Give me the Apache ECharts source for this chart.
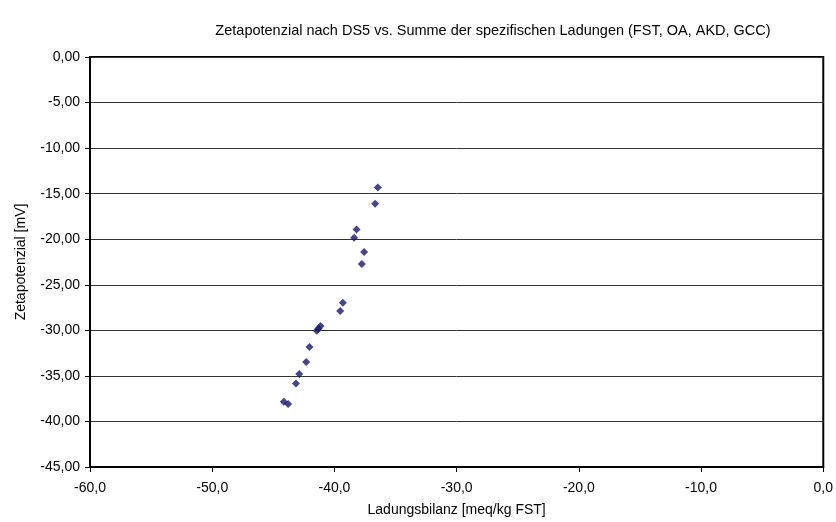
<!DOCTYPE html>
<html>
<head>
<meta charset="utf-8">
<script src="https://cdn.jsdelivr.net/npm/echarts@6/dist/echarts.min.js"></script>
<style>html,body{margin:0;padding:0;background:#fff}#c{width:836px;height:522px}</style>
</head>
<body>
<div id="c"></div>
<script>
var titleText = "Zetapotenzial nach DS5 vs. Summe der spezifischen Ladungen (FST, OA, AKD, GCC)";
var xName = "Ladungsbilanz [meq/kg FST]";
var yName = "Zetapotenzial [mV]";
var ladungsbilanz = [-36.45, -36.67, -38.19, -38.39, -37.57, -37.76, -39.31, -39.53, -41.14, -41.31, -41.44, -42.04, -42.31, -42.88, -43.15, -44.14, -43.79];
var zetapotenzial = [-14.31, -16.10, -18.92, -19.84, -21.40, -22.73, -26.97, -27.88, -29.53, -29.79, -30.04, -31.83, -33.48, -34.80, -35.83, -37.84, -38.09];

var points = ladungsbilanz.map(function (x, i) { return [x, zetapotenzial[i]]; });
var font = "Liberation Sans, Arial, sans-serif";
var chart = echarts.init(document.getElementById('c'), null, {renderer: 'canvas'});
chart.setOption({
  animation: false,
  backgroundColor: '#fff',
  title: {
    text: titleText, left: 488, top: 18, textAlign: 'center',
    textStyle: {fontFamily: font, fontSize: 14.5, fontWeight: 'normal', color: '#000'}
  },
  grid: {left: 90, right: 12, top: 57, bottom: 55, show: true, borderColor: '#000', borderWidth: 2},
  xAxis: {
    type: 'value', min: -60, max: 0, interval: 10,
    name: xName, nameLocation: 'middle', nameGap: 36,
    nameTextStyle: {fontFamily: font, fontSize: 14, color: '#000'},
    axisLine: {show: true, onZero: false, lineStyle: {color: '#000', width: 2}},
    axisTick: {show: true, length: 5, lineStyle: {color: '#000'}},
    axisLabel: {fontFamily: font, fontSize: 14, color: '#000', margin: 14,
      formatter: function (v) { return v.toFixed(1).replace('.', ','); }},
    splitLine: {show: false}
  },
  yAxis: {
    type: 'value', min: -45, max: 0, interval: 5,
    name: yName, nameLocation: 'middle', nameGap: 62,
    nameTextStyle: {fontFamily: font, fontSize: 14, color: '#000'},
    axisLine: {show: true, onZero: false, lineStyle: {color: '#000', width: 2}},
    axisTick: {show: true, length: 5, lineStyle: {color: '#000'}},
    axisLabel: {fontFamily: font, fontSize: 14, color: '#000', margin: 10,
      formatter: function (v) { return v.toFixed(2).replace('.', ','); }},
    splitLine: {show: true, lineStyle: {color: '#333', width: 1}}
  },
  series: [{
    type: 'scatter', data: points, symbol: 'diamond', symbolSize: 8,
    itemStyle: {color: '#16166a'}
  }]
});
</script>
</body>
</html>
